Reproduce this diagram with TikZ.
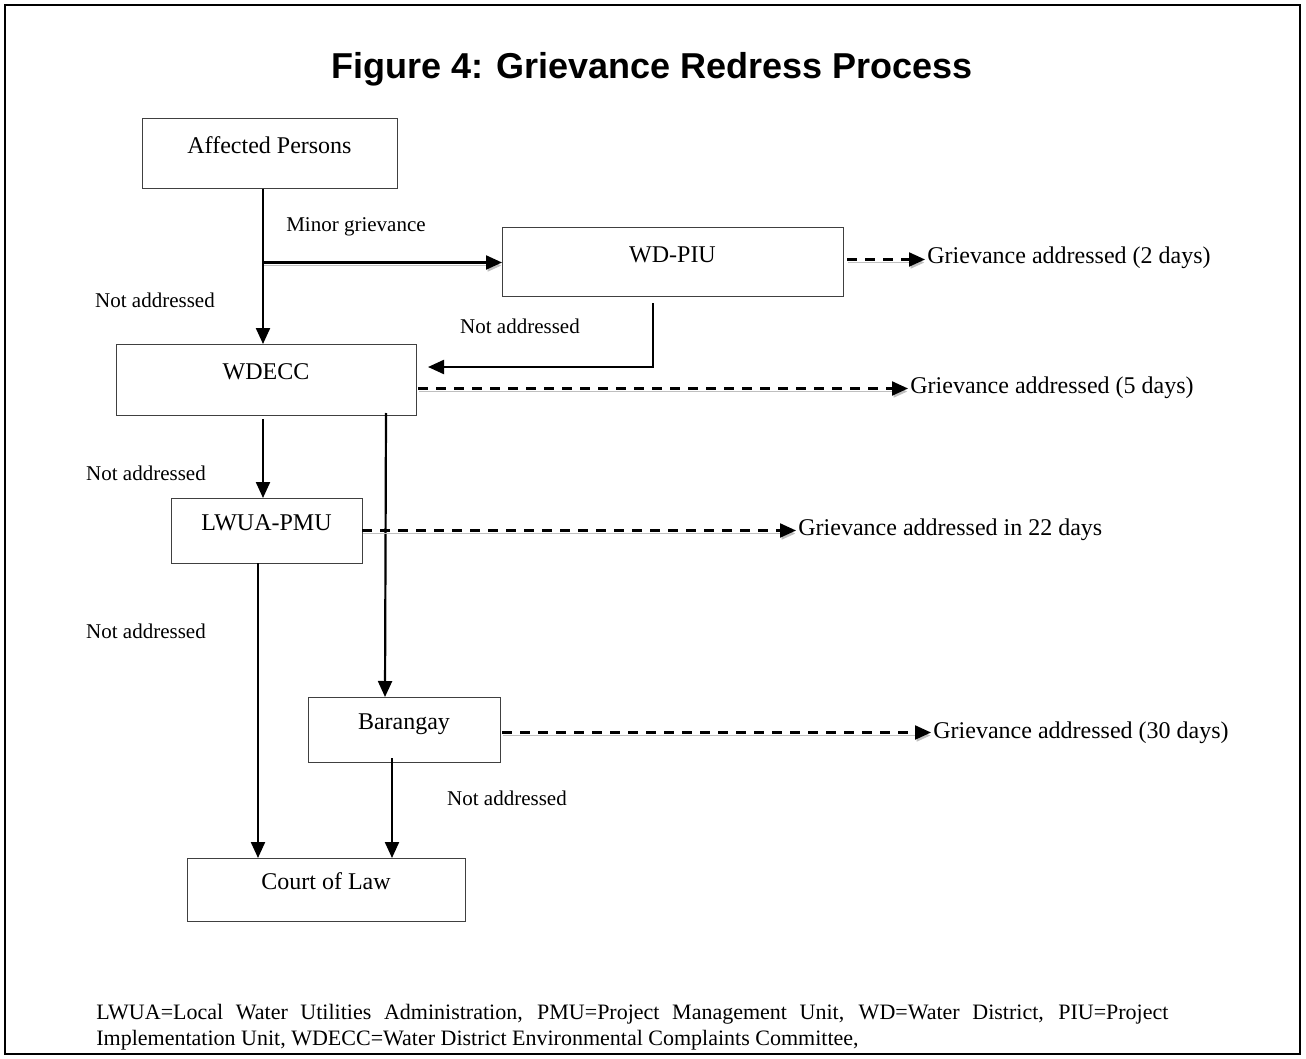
\documentclass[tikz,border=0pt]{standalone}
\usepackage{fontspec}
\setmainfont{Liberation Serif}
\newfontfamily\titlefont{Liberation Sans}
\usetikzlibrary{calc}
\usetikzlibrary{arrows.meta}

\tikzset{
  procbox/.style={draw=black!75, line width=0.5pt, inner sep=0pt, outer sep=0pt,
    text height=6pt, text depth=6pt, font=\fontsize{12}{14}\selectfont},
  note/.style={font=\fontsize{10.5}{12}\selectfont, inner sep=1pt},
  outtext/.style={font=\fontsize{12}{14}\selectfont, inner sep=1pt, anchor=west},
  flow/.style={line width=1.1pt, -{Triangle[length=8pt,width=7pt]}},
  shade/.style={preaction={draw=black!25, transform canvas={shift={(0.5pt,-1.5pt)}}}},
  outcome/.style={flow, dash pattern=on 5pt off 4pt, shade},
}

\begin{document}
\begin{tikzpicture}[x=0.5pt, y=-0.5pt]
\useasboundingbox (0,0) rectangle (1306,1059);
\draw[line width=1.2pt] (5,5) rectangle (1300,1054);
\node[font=\titlefont\bfseries\fontsize{18}{22}\selectfont] (title) at (652,69) {Figure 4: Grievance Redress Process};

% process boxes
\node[procbox, minimum width=127.5pt, minimum height=35pt] (ap) at (269.5,154) {Affected Persons};
\node[procbox, minimum width=170.5pt, minimum height=34.5pt] (piu) at (672.5,262.5) {WD-PIU};
\node[procbox, minimum width=150pt, minimum height=35.5pt] (wdecc) at (266,379.5) {WDECC};
\node[procbox, minimum width=95.5pt, minimum height=32.5pt] (pmu) at (266.5,530.5) {LWUA-PMU};
\node[procbox, minimum width=96pt, minimum height=32.5pt] (brgy) at (404,729.5) {Barangay};
\node[procbox, minimum width=139pt, minimum height=31.5pt] (court) at (326,889.5) {Court of Law};

% outcomes
\node[outtext] (ga2) at (925,258) {Grievance addressed (2 days)};
\node[outtext] (ga5) at (908,388) {Grievance addressed (5 days)};
\node[outtext] (ga22) at (796,530) {Grievance addressed in 22 days};
\node[outtext] (ga30) at (931,733) {Grievance addressed (30 days)};

% labels
\node[note] (mg) at (356,227) {Minor grievance};
\node[note] (na1) at (155,300) {Not addressed};
\node[note] (na2) at (520,326) {Not addressed};
\node[note] (na3) at (146,473) {Not addressed};
\node[note] (na4) at (146,631) {Not addressed};
\node[note] (na5) at (507,798) {Not addressed};

% solid arrows
\draw[flow] ($(ap.south -| wdecc.north)+(-3,0)$) -- ($(wdecc.north)+(-3,0)$);
\draw[flow, shade] ($(piu.west -| wdecc.north)+(-3,0)$) -- (piu.west);
\draw[flow] ($(piu.south)+(-19.5,6)$) |- ($(wdecc.east)+(12,-12.5)$);
\draw[flow] ($(wdecc.south)+(-3,4)$) -- ($(pmu.north)+(-3.5,0)$);
\draw[flow] ($(wdecc.south)+(120,-2)$) -- ($(brgy.north)+(-19,0)$);
\draw[flow] ($(pmu.south)+(-8.5,0)$) -- ($(pmu.south |- court.north)+(-8.5,0)$);
\draw[flow] ($(brgy.south)+(-12,-4)$) -- ($(brgy.south |- court.north)+(-12,0)$);

% dashed arrows
\draw[outcome] ($(piu.east)+(4,-3)$) -- ($(piu.east -| ga2.west)+(0,-3)$);
\draw[outcome] ($(wdecc.east)+(2,9)$) -- ($(wdecc.east -| ga5.west)+(0,9)$);
\draw[outcome] (pmu.east) -- (pmu.east -| ga22.west);
\draw[outcome] ($(brgy.east)+(2,3)$) -- ($(brgy.east -| ga30.west)+(0,3)$);

% key
\node[anchor=north west, align=justify, text width=536pt, inner sep=0pt, font=\fontsize{11}{13}\selectfont] (key) at (96,1004)
  {LWUA=Local Water Utilities Administration, PMU=Project Management Unit, WD=Water District, PIU=Project\linebreak
   Implementation Unit, WDECC=Water District Environmental Complaints Committee,};
\end{tikzpicture}
\end{document}
